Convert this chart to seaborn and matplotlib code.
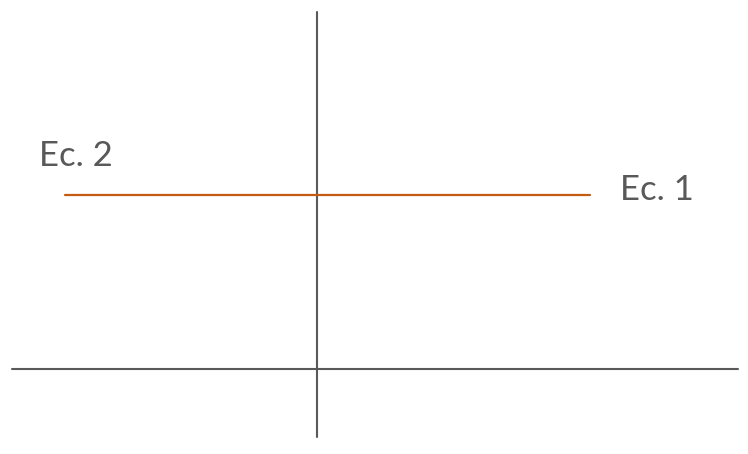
import matplotlib
matplotlib.use("Agg")
import matplotlib.pyplot as plt
import seaborn as sns
import pandas as pd

# ==========================
# datos
# ==========================
line_x = [-1.44, 1.56]
line_y = [0.995, 0.995]

xaxis_x = [-1.743, 2.406]
yaxis_y = [-0.389, 2.04]

labels = ["Ec. 2", "Ec. 1"]
label_x = [-1.587, 1.733]
label_y = [1.16, 0.966]

# ==========================
# figura
# ==========================
sns.set_style("white")
plt.rcParams['font.family'] = ['Lato', 'DejaVu Sans']

fig = plt.figure(figsize=(7.48, 4.54), dpi=100)
ax = fig.add_axes([0, 0, 1, 1])
ax.set_xlim(-317 / 175, (748 - 317) / 175)
ax.set_ylim(-(454 - 369) / 175, 369 / 175)
ax.axis("off")

axis_col = "#595959"
ax.plot(xaxis_x, [0, 0], color=axis_col, lw=1.5)
ax.plot([0, 0], yaxis_y, color=axis_col, lw=1.5)

df = pd.DataFrame({"x": line_x, "y": line_y})
sns.lineplot(data=df, x="x", y="y", ax=ax, color="#C55A11", lw=1.6)

for t, x, y in zip(labels, label_x, label_y):
    ax.text(x, y, t, fontsize=25, color=axis_col, ha="left", va="baseline")

fig.savefig("out.png", dpi=100)
